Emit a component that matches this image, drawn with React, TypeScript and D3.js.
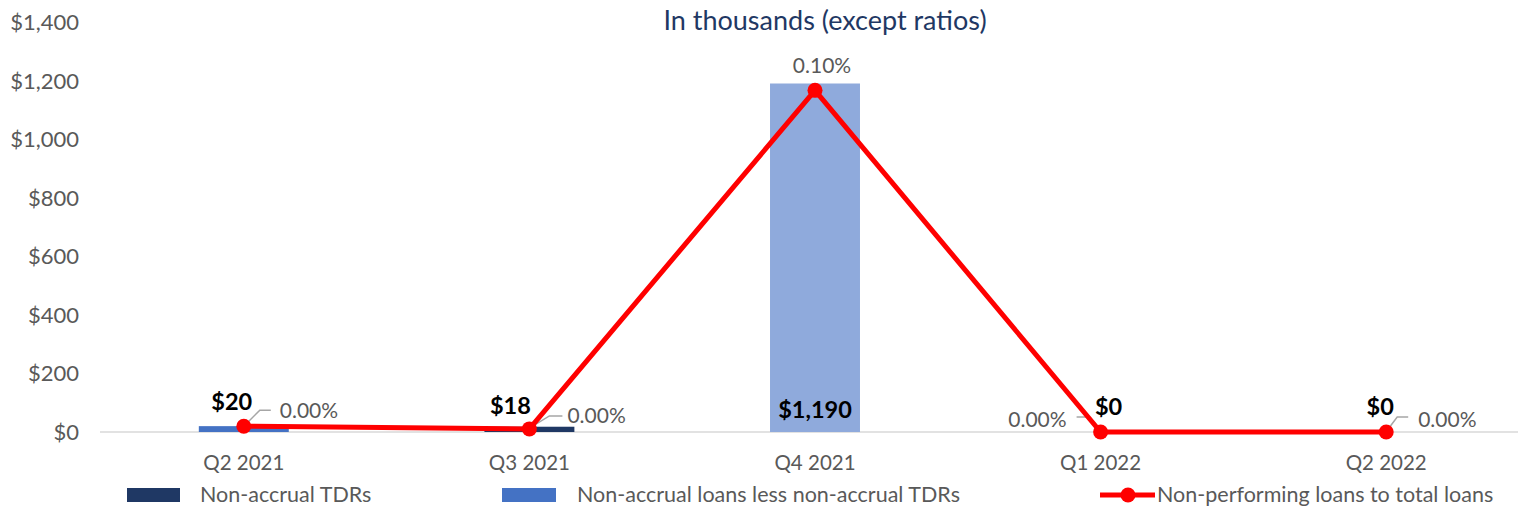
import React from "react";
import * as d3 from "d3";

const categories = ["Q2 2021", "Q3 2021", "Q4 2021", "Q1 2022", "Q2 2022"];
const nonAccrualTDRs = [0, 18, 0, 0, 0];
const nonAccrualLessTDRs = [20, 0, 1190, 0, 0];
const nplRatio = [0.0017, 0.0009, 0.1, 0, 0]; // percent
const barLabels = ["$20", "$18", "$1,190", "$0", "$0"];
const ratioLabels = ["0.00%", "0.00%", "0.10%", "0.00%", "0.00%"];
const yTicks = [0, 200, 400, 600, 800, 1000, 1200, 1400];

const W = 1518;
const H = 507;
const FONT = "Lato, 'Open Sans', sans-serif";
const GRAY = "#595959";
const NAVY = "#1F3864";
const BLUE = "#4472C4";
const LIGHT = "#8FAADC";
const RED = "#FF0000";

// per-point style tweaks (label offsets, colors)
const lessTDRColors = [BLUE, BLUE, LIGHT, BLUE, BLUE];
const barLabelDx = [-12, -19, 0, 8, -6];
const barLabelDy = [-16, -13, -15, -17, -17];
const ratioLabelPos = [
  { dx: 36, dy: -8, anchor: "start", leader: [[3, -3], [16, -16], [27, -16]] },
  { dx: 38, dy: -6, anchor: "start", leader: [[2, -2], [20, -13], [33, -13]] },
  { dx: 7, dy: -17, anchor: "middle", leader: null },
  { dx: -34, dy: -5, anchor: "end", leader: [[-1, -3], [-11, -15], [-24, -15]] },
  { dx: 32, dy: -5, anchor: "start", leader: [[2, -3], [11, -15], [22, -15]] },
];

export default function App() {
  const x = d3.scaleBand<string>().domain(categories).range([101, 1529]).padding(0);
  const y = d3.scaleLinear().domain([0, 1400]).range([432, 22]);
  const y2 = d3.scaleLinear().domain([0, 0.12]).range([432, 22]);
  const barW = x.bandwidth() * 0.315;
  const cx = (c: string) => (x(c) as number) + x.bandwidth() / 2;

  const line = d3
    .line<number>()
    .x((_, i) => cx(categories[i]))
    .y((d) => y2(d));

  return (
    <svg width={W} height={H} style={{ position: "absolute", left: 0, top: 0, background: "#fff" }} fontFamily={FONT}>
      <rect width={W} height={H} fill="#fff" />
      <text x={825} y={30} textAnchor="middle" fontSize={27} fill={NAVY}>
        In thousands (except ratios)
      </text>
      {yTicks.map((t) => (
        <text key={t} x={79} y={y(t) + 8} textAnchor="end" fontSize={22} fill={GRAY}>
          {d3.format("$,")(t)}
        </text>
      ))}
      <line x1={100} x2={W} y1={y(0)} y2={y(0)} stroke="#D9D9D9" strokeWidth={1.5} />
      {categories.map((c, i) => {
        const x0 = cx(c) - barW / 2;
        const a = nonAccrualTDRs[i];
        const b = nonAccrualLessTDRs[i];
        return (
          <g key={c}>
            {a > 0 && <rect x={x0} width={barW} y={y(a)} height={y(0) - y(a)} fill={NAVY} />}
            {b > 0 && <rect x={x0} width={barW} y={y(a + b)} height={y(a) - y(a + b)} fill={lessTDRColors[i]} />}
            <text x={cx(c)} y={470} textAnchor="middle" fontSize={20.5} fill={GRAY}>
              {c}
            </text>
          </g>
        );
      })}
      {categories.map((c, i) => (
        <path
          key={"ld" + c}
          d={
            ratioLabelPos[i].leader
              ? "M" + ratioLabelPos[i].leader!.map(([dx, dy]) => `${cx(c) + dx},${y2(nplRatio[i]) + dy}`).join("L")
              : ""
          }
          fill="none"
          stroke="#A6A6A6"
          strokeWidth={1.5}
        />
      ))}
      <path d={line(nplRatio) || ""} fill="none" stroke={RED} strokeWidth={5} strokeLinejoin="round" />
      {nplRatio.map((v, i) => (
        <circle key={i} cx={cx(categories[i])} cy={y2(v)} r={7.5} fill={RED} />
      ))}
      {categories.map((c, i) => {
        const top = y(nonAccrualTDRs[i] + nonAccrualLessTDRs[i]);
        const isInside = nonAccrualLessTDRs[i] > 500;
        return (
          <text
            key={"bl" + c}
            x={cx(c) + barLabelDx[i]}
            y={isInside ? y(0) - 14 : top + barLabelDy[i]}
            textAnchor="middle"
            fontSize={23.5}
            fontWeight="bold"
            fill="#000"
          >
            {barLabels[i]}
          </text>
        );
      })}
      {categories.map((c, i) => {
        const p = ratioLabelPos[i];
        return (
          <text
            key={"rl" + c}
            x={cx(c) + p.dx}
            y={y2(nplRatio[i]) + p.dy}
            textAnchor={p.anchor as any}
            fontSize={21}
            fill={GRAY}
          >
            {ratioLabels[i]}
          </text>
        );
      })}
      {/* legend */}
      <rect x={127} y={488} width={53} height={14} fill={NAVY} />
      <text x={200} y={502} fontSize={21.5} fill={GRAY}>Non-accrual TDRs</text>
      <rect x={502} y={488} width={54} height={14} fill={BLUE} />
      <text x={577} y={502} fontSize={21.5} fill={GRAY}>Non-accrual loans less non-accrual TDRs</text>
      <line x1={1100} x2={1155} y1={495} y2={495} stroke={RED} strokeWidth={5} />
      <circle cx={1128} cy={495} r={7.5} fill={RED} />
      <text x={1157} y={502} fontSize={21.5} fill={GRAY}>Non-performing loans to total loans</text>
    </svg>
  );
}
